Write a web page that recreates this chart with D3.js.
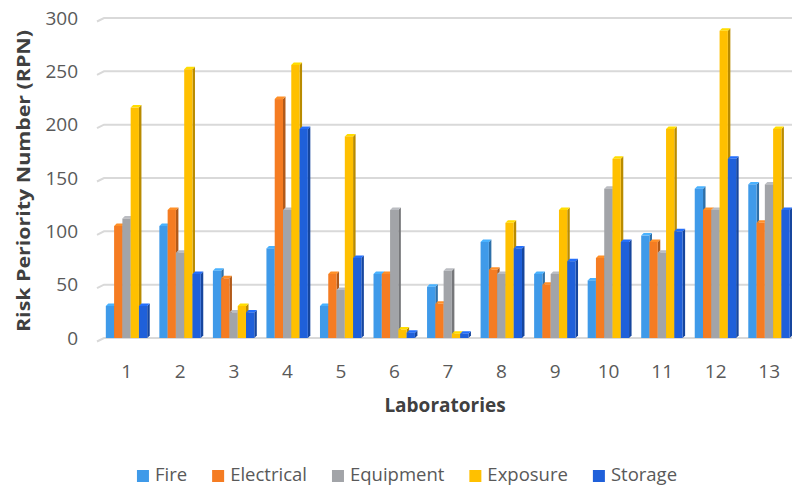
<!DOCTYPE html>
<html>
<head>
<meta charset="utf-8">
<script src="https://cdn.jsdelivr.net/npm/d3@7"></script>
<style>
  body { margin: 0; background: #fff; }
  text { font-family: "Open Sans", Lato, sans-serif; }
</style>
</head>
<body>
<svg id="chart" width="792" height="486"></svg>
<script>
// laboratories and risk numbers per hazard type
const labs = ["1", "2", "3", "4", "5", "6", "7", "8", "9", "10", "11", "12", "13"];
const seriesNames = ["Fire", "Electrical", "Equipment", "Exposure", "Storage"];
const fire = [30, 105, 63, 84, 30, 60, 48, 90, 60, 54, 96, 140, 144];
const electrical = [105, 120, 56, 224, 60, 60, 32, 64, 50, 75, 90, 120, 108];
const equipment = [112, 80, 24, 120, 45, 120, 63, 60, 60, 140, 80, 120, 144];
const exposure = [216, 252, 30, 256, 189, 8, 4, 108, 120, 168, 196, 288, 196];
const storage = [30, 60, 24, 196, 75, 5, 4, 84, 72, 90, 100, 168, 120];
const yTicks = [0, 50, 100, 150, 200, 250, 300];

const values = [fire, electrical, equipment, exposure, storage];
const colors = ["#3f9ae9", "#f57c22", "#a2a4a8", "#ffc000", "#1f60da"];

const svg = d3.select("#chart");
const width = 792, height = 486;
const depth = 2.5;

const x = d3.scaleBand().domain(labs).range([101, 797]).paddingInner(0.18).paddingOuter(0.09);
const xs = d3.scaleBand().domain(seriesNames).range([0, x.bandwidth() - depth]);
const y = d3.scaleLinear().domain([0, 300]).range([338, 18]);

// gridlines with a small slanted start like the 3d floor
const grid = svg.append("g");
yTicks.forEach(t => {
  const yy = y(t);
  grid.append("path")
    .attr("d", `M97,${yy + 3.5}L104,${yy}L${width},${yy}`)
    .attr("fill", "none")
    .attr("stroke", "#d9d9d9")
    .attr("stroke-width", 2);
});

// y axis labels
svg.append("g").selectAll("text")
  .data(yTicks)
  .enter()
  .append("text")
  .attr("x", 78)
  .attr("y", d => y(d) + 6.5)
  .attr("text-anchor", "end")
  .attr("font-size", "19px")
  .attr("fill", "#595959")
  .text(d => d);

// bars, drawn series after series so next face hides the side
const groups = svg.append("g").selectAll("g")
  .data(labs)
  .enter()
  .append("g")
  .attr("transform", d => `translate(${x(d)},0)`);

seriesNames.forEach((name, si) => {
  const col = d3.color(colors[si]);
  const dark = col.darker(0.9).formatHex();
  const light = col.brighter(0.4).formatHex();
  groups.each(function (lab, li) {
    const g = d3.select(this);
    const v = values[si][li];
    const x0 = xs(name), w = xs.bandwidth();
    const top = y(v), base = y(0);
    g.append("path")
      .attr("d", `M${x0 + w},${top}L${x0 + w + depth},${top - depth}L${x0 + w + depth},${base - depth}L${x0 + w},${base}Z`)
      .attr("fill", dark);
    g.append("path")
      .attr("d", `M${x0},${top}L${x0 + depth},${top - depth}L${x0 + w + depth},${top - depth}L${x0 + w},${top}Z`)
      .attr("fill", light);
    g.append("rect")
      .attr("x", x0)
      .attr("y", top)
      .attr("width", w)
      .attr("height", base - top)
      .attr("fill", colors[si]);
  });
});

// x axis labels
svg.append("g").selectAll("text")
  .data(labs)
  .enter()
  .append("text")
  .attr("x", d => x(d) + x.bandwidth() / 2 - 1)
  .attr("y", 378)
  .attr("text-anchor", "middle")
  .attr("font-size", "19px")
  .attr("fill", "#595959")
  .text(d => d);

// axis titles
svg.append("text")
  .attr("x", 445)
  .attr("y", 412)
  .attr("text-anchor", "middle")
  .attr("font-size", "19px")
  .attr("font-weight", "bold")
  .attr("fill", "#404040")
  .text("Laboratories");

svg.append("text")
  .attr("transform", "translate(30,181) rotate(-90)")
  .attr("text-anchor", "middle")
  .attr("font-size", "17.5px")
  .attr("font-weight", "bold")
  .attr("fill", "#404040")
  .attr("textLength", 302)
  .attr("lengthAdjust", "spacingAndGlyphs")
  .text("Risk Periority Number (RPN)");

// legend, laid out by measured text widths
const legend = svg.append("g");
const gap = 25;
let lx = 0;
seriesNames.forEach((name, i) => {
  const item = legend.append("g").attr("transform", `translate(${lx},0)`);
  item.append("rect")
    .attr("x", 0).attr("y", -11)
    .attr("width", 12).attr("height", 12)
    .attr("fill", colors[i]);
  const t = item.append("text")
    .attr("x", 18).attr("y", 0)
    .attr("font-size", "18.5px")
    .attr("fill", "#595959")
    .text(name);
  lx += 18 + t.node().getComputedTextLength() + gap;
});
const legendW = lx - gap;
legend.attr("transform", `translate(${407 - legendW / 2},481)`);
</script>
</body>
</html>
